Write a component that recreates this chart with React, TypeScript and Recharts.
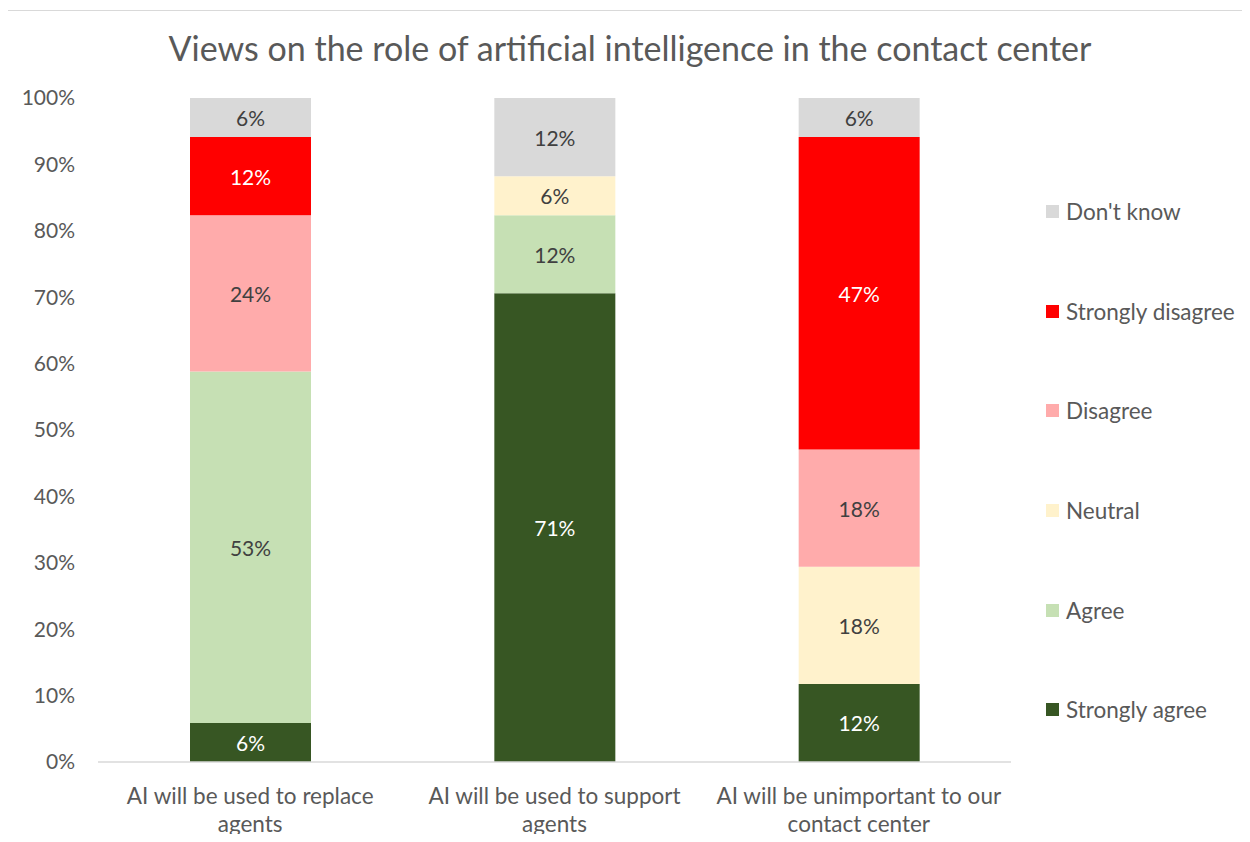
import React from 'react';
import { BarChart, Bar, XAxis, YAxis, Legend, LabelList } from 'recharts';

const categories = [
  'AI will be used to replace agents',
  'AI will be used to support agents',
  'AI will be unimportant to our contact center',
];
const tickLines: string[][] = [
  ['AI will be used to replace', 'agents'],
  ['AI will be used to support', 'agents'],
  ['AI will be unimportant to our', 'contact center'],
];
const seriesNames = ['Strongly agree', 'Agree', 'Neutral', 'Disagree', 'Strongly disagree', "Don't know"];
const stronglyAgree = [5.88, 70.59, 11.76];
const agree = [52.94, 11.76, 0];
const neutral = [0, 5.88, 17.65];
const disagree = [23.53, 0, 17.65];
const stronglyDisagree = [11.76, 0, 47.06];
const dontKnow = [5.88, 11.76, 5.88];
const yTicks = [0, 10, 20, 30, 40, 50, 60, 70, 80, 90, 100];
const title = 'Views on the role of artificial intelligence in the contact center';

const seriesValues = [stronglyAgree, agree, neutral, disagree, stronglyDisagree, dontKnow];
const colors = ['#375623', '#C6E0B4', '#FFF2CC', '#FFABAB', '#FF0000', '#D9D9D9'];
const labelColors = ['#FFFFFF', '#404040', '#404040', '#404040', '#FFFFFF', '#404040'];

const FONT = 'Lato, "Open Sans", sans-serif';
const TEXT = '#595959';

const data = categories.map((c, i) => {
  const row: Record<string, any> = { name: c, idx: i };
  seriesNames.forEach((s, k) => {
    row[s] = seriesValues[k][i];
  });
  return row;
});

const makeLabel = (color: string) => (props: any) => {
  const { x, y, width, height, value } = props;
  if (!value) return null;
  return (
    <text
      x={Number(x) + Number(width) / 2}
      y={Number(y) + Number(height) / 2}
      fill={color}
      textAnchor="middle"
      dominantBaseline="central"
      fontSize={21}
      fontFamily={FONT}
    >
      {Math.round(Number(value))}%
    </text>
  );
};

const XTick = (props: any) => {
  const { x, y, index } = props;
  const lines = tickLines[index] || [String(props.payload?.value)];
  return (
    <g>
      {lines.map((l, k) => (
        <text
          key={k}
          x={x}
          y={y + 25 + k * 28}
          textAnchor="middle"
          dominantBaseline="central"
          fill={TEXT}
          fontSize={22.5}
          fontFamily={FONT}
        >
          {l}
        </text>
      ))}
    </g>
  );
};

const LegendContent = () => {
  const order = seriesNames.map((_, i) => i).reverse();
  return (
    <div style={{ fontFamily: FONT }}>
      {order.map((i) => (
        <div key={i} style={{ height: 99.6, display: 'flex', alignItems: 'center' }}>
          <span style={{ width: 13, height: 13, background: colors[i], display: 'inline-block', marginRight: 7 }} />
          <span style={{ color: TEXT, fontSize: 22.5, whiteSpace: 'nowrap' }}>{seriesNames[i]}</span>
        </div>
      ))}
    </div>
  );
};

export default function App() {
  return (
    <div style={{ position: 'relative', width: 1234, height: 826 }}>
      <div
        style={{
          position: 'absolute',
          left: -1,
          top: 2,
          width: 1235,
          height: 824,
          borderTop: '1px solid #D9D9D9',
          borderLeft: '1px solid #D9D9D9',
          boxSizing: 'border-box',
        }}
      />
      <div
        style={{
          position: 'absolute',
          left: 0,
          width: 1244,
          top: 23,
          height: 34,
          lineHeight: '34px',
          textAlign: 'center',
          fontFamily: FONT,
          fontSize: 34,
          color: TEXT,
          whiteSpace: 'nowrap',
        }}
      >
        {title}
      </div>
      <div style={{ position: 'absolute', left: 0, top: 0 }}>
        <BarChart
          width={1234}
          height={834}
          data={data}
          margin={{ top: 90, right: 231, left: 0, bottom: 0 }}
          barSize={121}
        >
          <XAxis
            dataKey="name"
            axisLine={{ stroke: '#D9D9D9', strokeWidth: 1.5 }}
            tickLine={false}
            height={80}
            interval={0}
            tick={<XTick />}
          />
          <YAxis
            width={90}
            domain={[0, 100]}
            ticks={yTicks}
            axisLine={false}
            tickLine={false}
            tickMargin={17}
            tickFormatter={(v: number) => `${v}%`}
            tick={{ fill: TEXT, fontSize: 21, fontFamily: FONT }}
          />
          <Legend
            layout="vertical"
            align="center"
            verticalAlign="middle"
            wrapperStyle={{ left: 1038, top: 154, width: 200 }}
            content={<LegendContent />}
          />
          {seriesNames.map((s, k) => (
            <Bar key={s} dataKey={s} stackId="a" fill={colors[k]} isAnimationActive={false}>
              <LabelList dataKey={s} content={makeLabel(labelColors[k])} />
            </Bar>
          ))}
        </BarChart>
      </div>
    </div>
  );
}
